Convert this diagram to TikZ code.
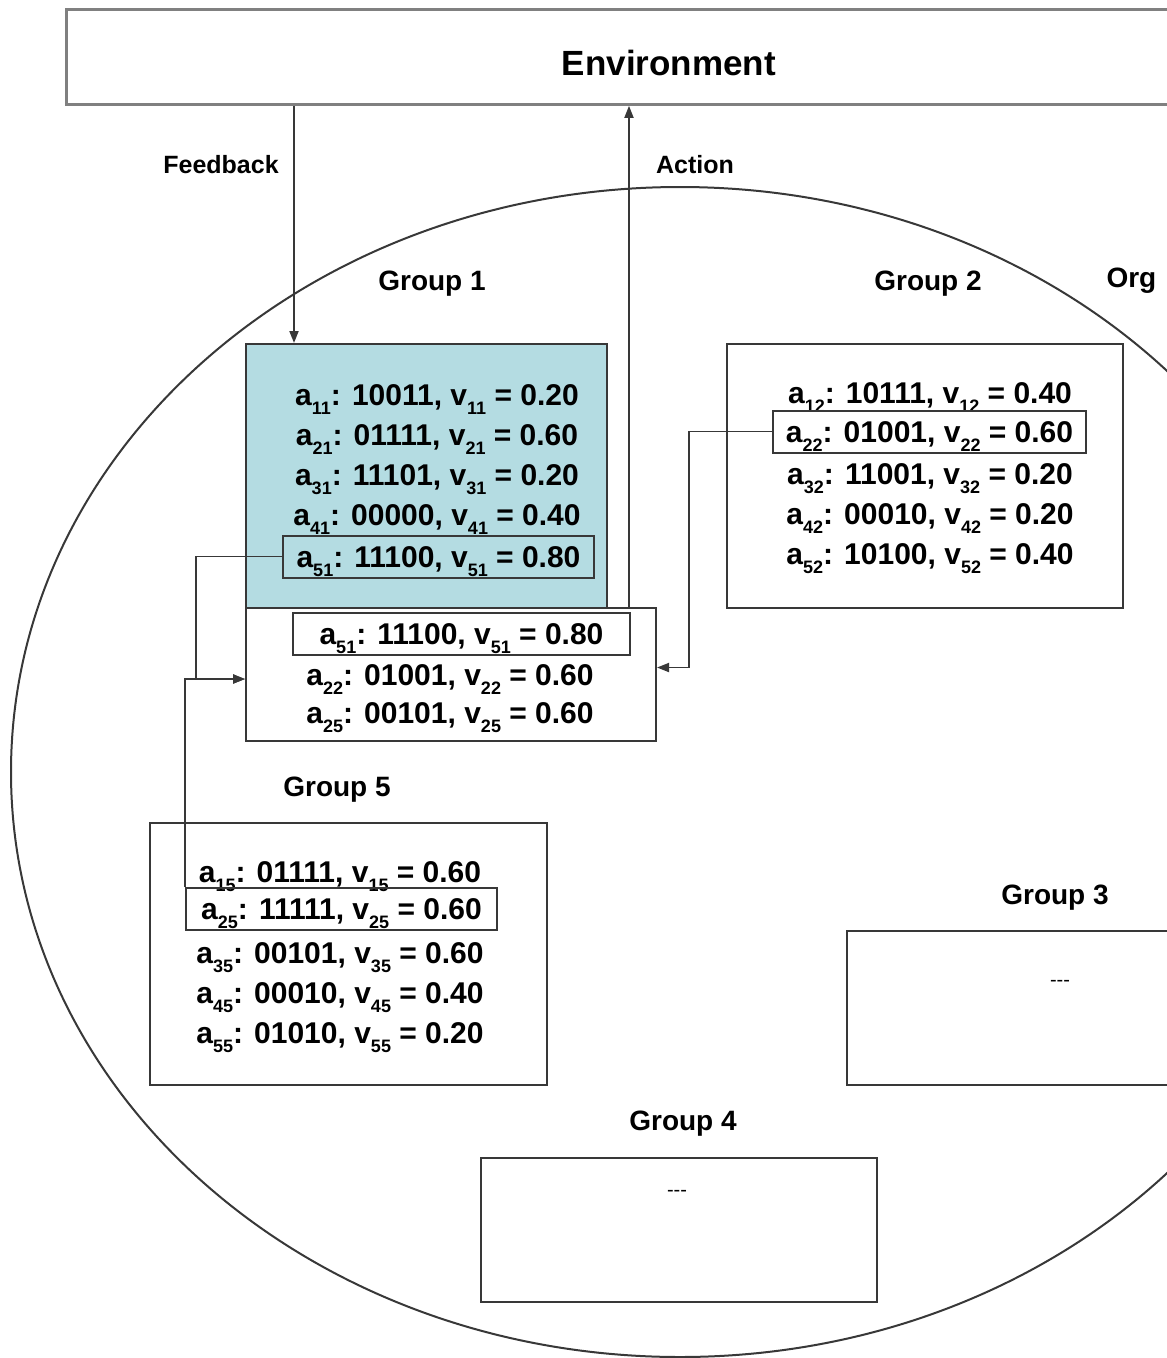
\documentclass[tikz,border=0pt]{standalone}
\usepackage{fontspec}
\setmainfont{Liberation Sans}
\usetikzlibrary{arrows.meta,positioning,calc}
\definecolor{lineclr}{HTML}{383838}
\definecolor{grpfill}{HTML}{B4DCE2}
\tikzset{
  grp/.style={draw=lineclr, line width=2pt, anchor=north west, inner sep=0pt},
  envbox/.style={draw=black!50, line width=2.8pt, anchor=north west, inner sep=0pt},
  row/.style={inner sep=0pt, text height=21pt, text depth=0pt, font=\bfseries\fontsize{30}{34}\selectfont},
  pick/.style={row, draw=lineclr, line width=2pt, minimum height=42pt},
  glbl/.style={anchor=base, font=\bfseries\fontsize{28}{32}\selectfont},
  flbl/.style={anchor=base, font=\bfseries\fontsize{25}{30}\selectfont},
  dots/.style={font=\fontsize{20}{24}\selectfont, inner sep=0pt},
  flow/.style={-{Triangle[length=12pt,width=9pt]}, line width=1.8pt, draw=lineclr},
}
\newcommand{\ix}[1]{\raisebox{-0.3em}{\fontsize{18}{18}\selectfont #1}}
\newcommand{\arow}[3]{a\ix{#1}: #2, v\ix{#1} = #3}

\begin{document}
\begin{tikzpicture}[x=1pt, y=-1pt]
  \useasboundingbox (0,0) rectangle (1167,1358);
  \clip (0,0) rectangle (1167,1358);

  % organisation
  \draw[line width=2pt, lineclr] (680,772) ellipse [x radius=669pt, y radius=585pt];
  \node[glbl, anchor=base west] (org) at (1103,287) {Org};

  % environment
  \node[envbox, minimum width=1205pt, minimum height=95pt] (env) at (65,8) {};
  \node[font=\bfseries\fontsize{35}{40}\selectfont] (envlbl) at ([yshift=-6.5pt]env.center) {Environment};

  % group boxes
  \node[grp, fill=grpfill, minimum width=361pt, minimum height=264pt] (g1) at (245,343) {};
  \node[grp, fill=white, minimum width=410pt, minimum height=133pt] (shared) at (245,607) {};
  \node[grp, minimum width=396pt, minimum height=264pt] (g2) at (726,343) {};
  \node[grp, minimum width=397pt, minimum height=262pt] (g5) at (149,822) {};
  \node[grp, minimum width=428pt, minimum height=154pt] (g3) at (846,930) {};
  \node[grp, minimum width=396pt, minimum height=144pt] (g4) at (480,1157) {};

  \node[glbl] (g1lbl) at (432,290) {Group 1};
  \node[glbl] (g2lbl) at (928,290) {Group 2};
  \node[glbl] (g5lbl) at (337,796) {Group 5};
  \node[glbl] (g3lbl) at (1055,904) {Group 3};
  \node[glbl] (g4lbl) at (683,1130) {Group 4};

  \node[dots] (g3dots) at (1060,983) {-{}-{}-};
  \node[dots] (g4dots) at (677,1193) {-{}-{}-};

  % group 1
  \node[row] (a11) at (437,395) {\arow{11}{10011}{0.20}};
  \node[row] (a21) at (437,435) {\arow{21}{01111}{0.60}};
  \node[row] (a31) at (437,475) {\arow{31}{11101}{0.20}};
  \node[row] (a41) at (437,515) {\arow{41}{00000}{0.40}};
  \node[pick, minimum width=311pt] (p51) at (438.5,556.5) {\arow{51}{11100}{0.80}};

  % group 2
  \node[row] (a12) at (930,393) {\arow{12}{10111}{0.40}};
  \node[pick, minimum width=313pt] (p22) at (929.5,431.5) {\arow{22}{01001}{0.60}};
  \node[row] (a32) at (930,474) {\arow{32}{11001}{0.20}};
  \node[row] (a42) at (930,514) {\arow{42}{00010}{0.20}};
  \node[row] (a52) at (930,554) {\arow{52}{10100}{0.40}};

  % group 5
  \node[row] (a15) at (340,872) {\arow{15}{01111}{0.60}};
  \node[pick, minimum width=311pt] (p25) at (341.5,909) {\arow{25}{11111}{0.60}};
  \node[row] (a35) at (340,953) {\arow{35}{00101}{0.60}};
  \node[row] (a45) at (340,993) {\arow{45}{00010}{0.40}};
  \node[row] (a55) at (340,1033) {\arow{55}{01010}{0.20}};

  % collected rows
  \node[pick, minimum width=337pt] (s51) at (461.5,634) {\arow{51}{11100}{0.80}};
  \node[row] (s22) at (450,675) {\arow{22}{01001}{0.60}};
  \node[row] (s25) at (450,713) {\arow{25}{00101}{0.60}};

  % feedback / action
  \coordinate (fbx) at (294,0);
  \coordinate (actx) at (629,0);
  \draw[flow] (env.south -| fbx) -- (g1.north -| fbx);
  \draw[flow] (shared.north -| actx) -- (env.south -| actx);
  \node[flbl] (fblbl) at (221,173) {Feedback};
  \node[flbl] (actlbl) at (695,173) {Action};

  % selected actions into the pool
  \draw[flow] (p22.west) -- ++(-83,0) |- ([yshift=7pt]shared.east);
  \draw[flow] (p51.west) -- ++(-86,0) |- ([yshift=-4.5pt]shared.west);
  \draw[flow] (p25.north west) |- ([yshift=-4.5pt]shared.west);
\end{tikzpicture}
\end{document}
